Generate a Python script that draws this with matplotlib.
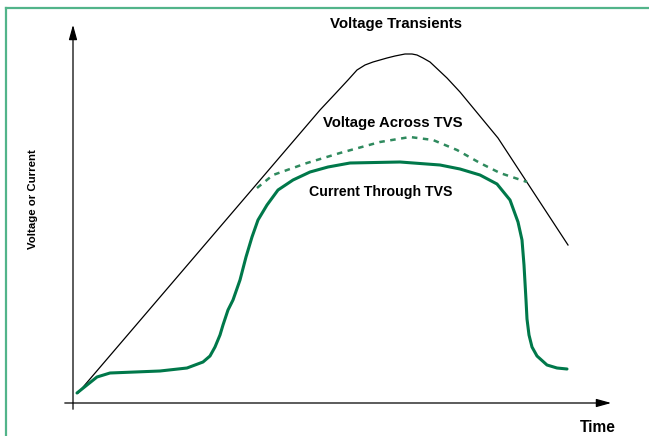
import matplotlib
matplotlib.use('Agg')
import matplotlib.pyplot as plt
from matplotlib.lines import Line2D

# schematic data, arbitrary units (origin = where the axes cross)
v_t = [5, 247, 262, 275, 284, 292, 300, 314, 322, 332, 339, 344, 350, 357, 374, 387, 425, 495]
v_v = [10, 293, 309, 323, 333, 338, 341, 345, 347, 349, 349, 348, 345, 341, 325, 311, 265, 158]

i_t = [4, 14, 24, 37, 62, 87, 114, 130, 137, 142, 147, 150, 155, 160, 167, 173, 179, 185,
       194, 205, 220, 237, 255, 277, 327, 367, 387, 407, 424, 437, 445, 449, 451, 453,
       454, 456, 459, 464, 474, 484, 494]
i_v = [10, 18, 26, 30, 31, 32, 35, 41, 47, 56, 68, 78, 93, 103, 123, 146, 166, 183,
       198, 213, 223, 231, 236, 240, 241, 238, 234, 228, 219, 203, 181, 163, 138, 103,
       84, 68, 56, 47, 38, 35, 34]

c_t = [184, 200, 234, 267, 307, 337, 360, 384, 407, 427, 454]
c_v = [215, 228, 240, 250, 261, 266, 263, 253, 240, 230, 221]

green = '#00784a'
font = ['Liberation Sans', 'DejaVu Sans']

fig = plt.figure(figsize=(6.49, 4.36), dpi=100)
ax = fig.add_axes([0, 0, 1, 1])
ax.set_xlim(-73, 649 - 73)
ax.set_ylim(403 - 436, 403)
ax.axis('off')

ax.plot(v_t, v_v, color='black', lw=0.9)
ax.plot(c_t, c_v, color='#2f8a5e', lw=1.8, dashes=(2.2, 2.2))
ax.plot(i_t, i_v, color=green, lw=2.2, solid_capstyle='round', solid_joinstyle='round')

# axes with arrows
ax.annotate('', xy=(0, 381), xytext=(0, -9),
            arrowprops=dict(arrowstyle='-|>,head_length=0.9,head_width=0.25', color='black', lw=0.9))
ax.annotate('', xy=(541, 0), xytext=(-11, 0),
            arrowprops=dict(arrowstyle='-|>,head_length=0.9,head_width=0.25', color='black', lw=0.9))

ax.text(323, 379, 'Voltage Transients', ha='center', va='center', fontsize=10.8,
        fontweight='bold', family=font)
ax.text(320, 280, 'Voltage Across TVS', ha='center', va='center', fontsize=10.7,
        fontweight='bold', family=font)
ax.text(308, 211, 'Current Through TVS', ha='center', va='center', fontsize=10.2,
        fontweight='bold', family=font)
ax.text(-40, 204, 'Voltage or Current', ha='center', va='center', rotation=90,
        fontsize=8.2, fontweight='bold', family=font)
ax.text(525, -24, 'Time', ha='center', va='center', fontsize=11.2,
        fontweight='bold', family=font)

# frame (left and top only)
fig.add_artist(Line2D([6 / 649, 6 / 649], [0, 1 - 8 / 436], color='#52b48a', lw=1.6))
fig.add_artist(Line2D([6 / 649, 1], [1 - 8 / 436, 1 - 8 / 436], color='#52b48a', lw=1.6))

fig.savefig('out.png', dpi=100)
